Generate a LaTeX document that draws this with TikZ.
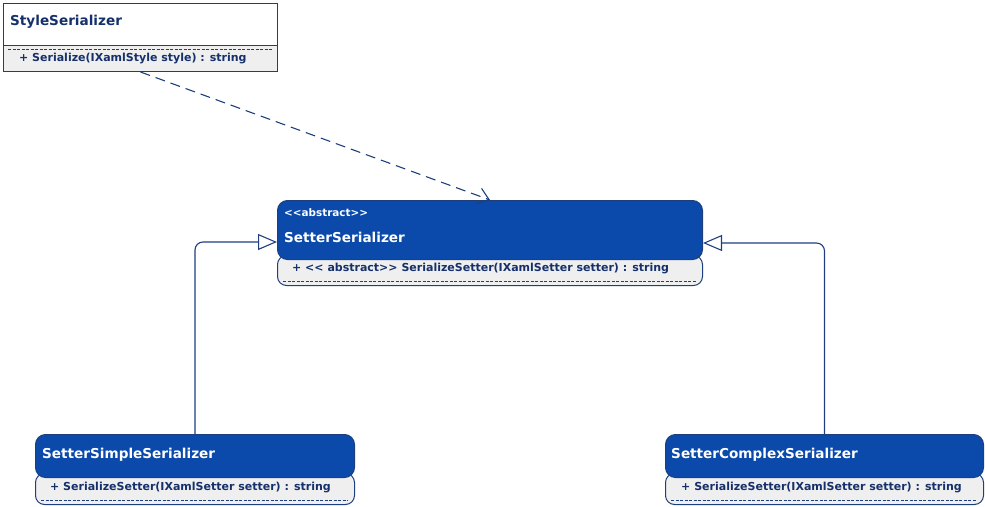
\documentclass[tikz,border=0pt]{standalone}
\usepackage{fontspec}
\setmainfont{DejaVu Sans}
\usetikzlibrary{arrows.meta}
\definecolor{umlblue}{HTML}{0B4AAA}
\definecolor{umlline}{HTML}{1D3F7F}
\definecolor{umlbody}{HTML}{EFEFEF}
\definecolor{umltext}{HTML}{15306A}
\tikzset{
  box/.style={draw=umlline, line width=1pt, anchor=north west, inner sep=0pt},
  whitehead/.style={box, fill=white},
  bluehead/.style={box, fill=umlblue, rounded corners=10pt},
  graybody/.style={box, fill=umlbody},
  roundbody/.style={graybody, rounded corners=9pt},
  titletext/.style={anchor=west, inner sep=0pt, font=\bfseries\fontsize{13.6}{15}\selectfont},
  methodtext/.style={anchor=west, inner sep=0pt, text=umltext, font=\bfseries\fontsize{11}{13}\selectfont},
  stereo/.style={anchor=west, inner sep=0pt, text=white, font=\bfseries\fontsize{10.4}{12}\selectfont},
  sep/.style={draw=umlline, line width=1pt, dash pattern=on 3pt off 1.5pt},
  inherit/.style={draw=umlline, line width=1.1pt, rounded corners=8pt, -{Triangle[open, fill=white, length=19pt, width=16pt]}},
  depend/.style={draw=umlline, line width=1.1pt, dash pattern=on 10pt off 6pt, -{Straight Barb[length=11pt, width=16pt]}},
}
\begin{document}
\begin{tikzpicture}[x=1pt, y=-1pt]
\useasboundingbox (0,0) rectangle (985,506);
% StyleSerializer
\node[whitehead, minimum width=274pt, minimum height=42pt] (styh) at (3,3) {};
\node[graybody, minimum width=274pt, minimum height=26pt] (styb) at (3,45) {};
\draw[sep] (8,49) -- (272,49);
\node[titletext, text=umltext] (styt) at (10,22) {StyleSerializer};
\node[methodtext] (stym) at (19,59) {+ Serialize(IXamlStyle style) : string};
% SetterSerializer
\node[roundbody, minimum width=425pt, minimum height=30pt] (absb) at (277,255) {};
\node[bluehead, minimum width=425pt, minimum height=59pt] (absh) at (277,200) {};
\draw[sep] (283,281) -- (696,281);
\node[stereo] (abss) at (284,213) {{<}{<}abstract{>}{>}};
\node[titletext, text=white] (abst) at (284,237) {SetterSerializer};
\node[methodtext] (absm) at (292,269) {+ {<}{<} abstract{>}{>} SerializeSetter(IXamlSetter setter) : string};
% SetterSimpleSerializer
\node[roundbody, minimum width=319pt, minimum height=31pt] (simb) at (35,473) {};
\node[bluehead, minimum width=319pt, minimum height=43pt] (simh) at (35,434) {};
\draw[sep] (41,500) -- (348,500);
\node[titletext, text=white] (simt) at (42,455) {SetterSimpleSerializer};
\node[methodtext] (simm) at (50,488) {+ SerializeSetter(IXamlSetter setter) : string};
% SetterComplexSerializer
\node[roundbody, minimum width=318pt, minimum height=31pt] (comb) at (665,473) {};
\node[bluehead, minimum width=318pt, minimum height=43pt] (comh) at (665,434) {};
\draw[sep] (671,500) -- (977,500);
\node[titletext, text=white] (comt) at (671,455) {SetterComplexSerializer};
\node[methodtext] (comm) at (681,488) {+ SerializeSetter(IXamlSetter setter) : string};
% connectors
\draw[inherit] (simh.north) |- ([yshift=-12pt]absh.west);
\draw[inherit] (comh.north) |- ([yshift=-13pt]absh.east);
\draw[depend] (styb.south) -- (absh.north);
\end{tikzpicture}
\end{document}
